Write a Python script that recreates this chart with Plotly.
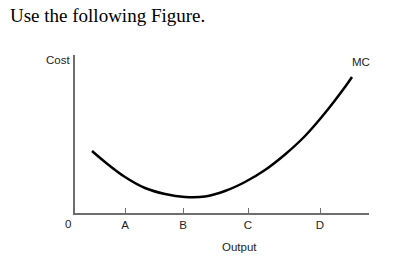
import plotly.graph_objects as go

# Data (pixel-like units: x measured from y-axis, y from x-axis)
curve_x = [17, 30, 50, 70, 90, 110, 130, 150, 170, 190, 210, 230, 250, 270, 277]
curve_y = [62, 51, 36, 25, 19, 16, 16.5, 22, 31, 43, 58.5, 77, 100, 126, 136]
tick_pos = [50, 108, 173, 245]
tick_labels = ["A", "B", "C", "D"]

X0, X1 = 0, 294
Y0, Y1 = 0, 158

fig = go.Figure()
fig.add_trace(go.Scatter(x=curve_x, y=curve_y, mode="lines",
                         line=dict(color="black", width=2.5, shape="spline", smoothing=1.0),
                         hoverinfo="skip"))

axis_col = "#6e6e6e"
fs = 11.5
fig.update_layout(
    width=396, height=262,
    margin=dict(l=75, r=27, t=55, b=49),
    paper_bgcolor="white", plot_bgcolor="white",
    showlegend=False,
    font=dict(family="Liberation Sans, Arial, sans-serif", size=fs, color="#222"),
    xaxis=dict(range=[X0, X1], showgrid=False, zeroline=False,
               showline=True, linecolor=axis_col, linewidth=2,
               ticks="inside", ticklen=5, tickwidth=1.2, tickcolor=axis_col,
               tickvals=tick_pos, ticktext=tick_labels,
               tickfont=dict(size=fs, color="#222"), fixedrange=True),
    yaxis=dict(range=[Y0, Y1], showgrid=False, zeroline=False,
               showline=True, linecolor=axis_col, linewidth=2,
               showticklabels=False, ticks="", fixedrange=True),
)

def px(x):
    return (x - X0) / (X1 - X0)

def py(y):
    return (y - Y0) / (Y1 - Y0)

anns = [
    dict(x=px(-67), y=py(198), text="Use the following Figure.", xanchor="left", yanchor="middle",
         font=dict(family="Liberation Serif, Times New Roman, serif", size=19, color="black")),
    dict(x=px(-3), y=py(153), text="Cost", xanchor="right", yanchor="middle"),
    dict(x=px(286), y=py(151), text="MC", xanchor="center", yanchor="middle"),
    dict(x=px(164), y=py(-34), text="Output", xanchor="center", yanchor="middle"),
    dict(x=px(-7), y=py(-11), text="0", xanchor="center", yanchor="middle"),
]
for a in anns:
    a.update(xref="paper", yref="paper", showarrow=False)
    fig.add_annotation(**a)

fig.write_html("out.html")
